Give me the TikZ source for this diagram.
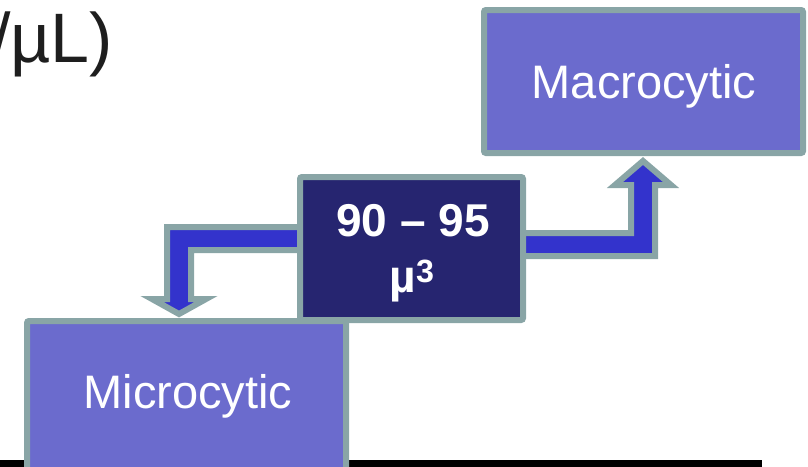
\documentclass[tikz,border=0pt]{standalone}
\usepackage{fontspec}
\setmainfont{Liberation Sans}
\definecolor{bordergray}{RGB}{137,165,166}
\definecolor{boxfill}{RGB}{107,107,205}
\definecolor{darkfill}{RGB}{38,37,112}
\definecolor{arrowblue}{RGB}{51,51,204}
\definecolor{topink}{RGB}{30,30,30}
\begin{document}
\begin{tikzpicture}[x=1pt,y=-1pt,
  boxshape/.style={draw=bordergray,line width=6pt,fill=boxfill,rounded corners=2pt},
  darkbox/.style={draw=bordergray,line width=6pt,fill=darkfill,rounded corners=2pt},
  elbow/.style={draw=bordergray,line width=6pt,fill=arrowblue,line join=miter},
  bigtext/.style={text=white,font=\fontsize{47}{56}\selectfont,inner sep=0pt,anchor=base},
  boldtext/.style={text=white,font=\bfseries\fontsize{46}{56}\selectfont,inner sep=0pt,anchor=base}]
\useasboundingbox (0,0) rectangle (808,466);
\clip (0,0) rectangle (808,466);
% partial text at top left
\node[text=topink,font=\fontsize{70}{80}\selectfont,inner sep=0pt,anchor=base west] (unit) at (-9,62) {/µL)};
% black bar at bottom
\fill[black] (0,460) rectangle (762,470);
% elbow arrows
\draw[elbow] (297,227) -- (167,227) -- (167,299) -- (152,299) -- (179,314) -- (206,299) -- (191,299) -- (191,250) -- (297,250);
\draw[elbow] (526,233) -- (631,233) -- (631,185) -- (615,185) -- (643,161) -- (671,185) -- (655,185) -- (655,256) -- (526,256);
% boxes
\draw[boxshape] (484,10) rectangle (803,153);
\draw[darkbox] (300,177) rectangle (523,320);
\draw[boxshape] (27,321) rectangle (346,480);
% texts
\node[bigtext] (macro) at (644,98) {Macrocytic};
\node[bigtext] (micro) at (188,408) {Microcytic};
\node[boldtext] (range) at (413,236) {90 – 95};
\node[boldtext] (unitmu) at (412,292) {µ\textsuperscript{3}};
\end{tikzpicture}
\end{document}
